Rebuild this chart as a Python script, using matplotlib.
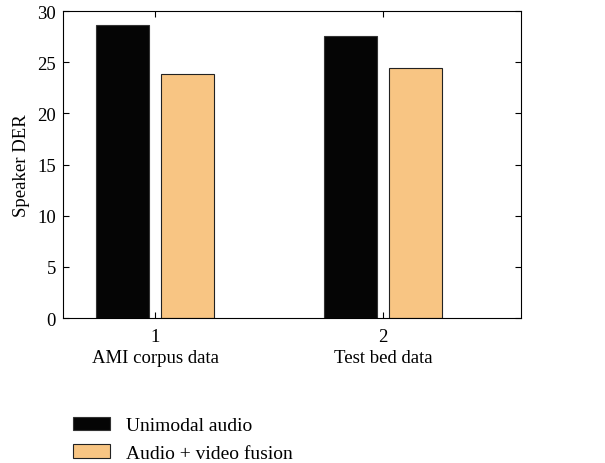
import numpy as np
import matplotlib.pyplot as plt

plt.rcParams['font.family'] = ['Liberation Serif', 'DejaVu Serif']

groups = [1, 2]
group_names = ["AMI corpus data", "Test bed data"]
unimodal = [28.65, 27.55]
fusion = [23.8, 24.4]
series_names = ["Unimodal audio", "Audio + video fusion"]

fig = plt.figure(figsize=(6.05, 4.64), dpi=100)
ax = fig.add_axes([0.104, 0.3125, 0.757, 0.6615])

x = np.array(groups)
w = 0.232
ax.bar(x - 0.143, unimodal, w, color='#050505', edgecolor='#333333', linewidth=0.8, label=series_names[0])
ax.bar(x + 0.143, fusion, w, color='#f8c583', edgecolor='#222222', linewidth=0.8, label=series_names[1])

ax.set_xlim(0.596, 2.605)
ax.set_ylim(0, 30)
ax.set_yticks(range(0, 31, 5))
ax.set_xticks(groups)
ax.set_xticklabels([f"{g}\n{n}" for g, n in zip(groups, group_names)], fontsize=13.5, linespacing=1.3)
ax.tick_params(axis='y', labelsize=13.5, pad=5)
ax.tick_params(axis='x', pad=7)
ax.tick_params(direction='in', top=True, right=True, length=4, width=0.8)
ax.set_ylabel("Speaker DER", fontsize=13.5, labelpad=5)
for s in ax.spines.values():
    s.set_linewidth(0.8)

fig.legend(loc='upper left', bbox_to_anchor=(0.121, 0.1), frameon=False, fontsize=14,
           handlelength=1.9, handleheight=0.7, handletextpad=0.8, borderpad=0, borderaxespad=0,
           labelspacing=0.5)

plt.savefig('out.png')
